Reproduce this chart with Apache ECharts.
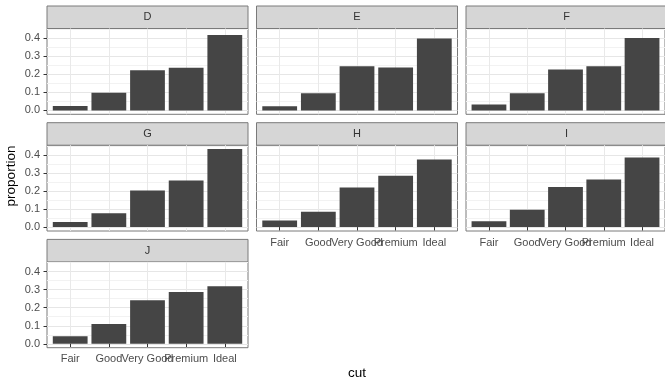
<!DOCTYPE html>
<html>
<head>
<meta charset="utf-8">
<script src="https://cdn.jsdelivr.net/npm/echarts@6/dist/echarts.min.js"></script>
<style>
html,body{margin:0;padding:0;background:#fff;}
#chart{width:665px;height:382px;}
</style>
</head>
<body>
<div id="chart"></div>
<script>
const cuts = ['Fair', 'Good', 'Very Good', 'Premium', 'Ideal'];
const facets = ['D', 'E', 'F', 'G', 'H', 'I', 'J'];
const propD = [0.0241, 0.0977, 0.2233, 0.2366, 0.4183];
const propE = [0.0229, 0.0952, 0.2450, 0.2385, 0.3984];
const propF = [0.0327, 0.0953, 0.2268, 0.2443, 0.4010];
const propG = [0.0278, 0.0771, 0.2036, 0.2589, 0.4325];
const propH = [0.0365, 0.0845, 0.2197, 0.2842, 0.3751];
const propI = [0.0323, 0.0963, 0.2221, 0.2634, 0.3860];
const propJ = [0.0424, 0.1093, 0.2415, 0.2877, 0.3191];
const yTicks = [0, 0.1, 0.2, 0.3, 0.4];
const yMinorTicks = [0.05, 0.15, 0.25, 0.35, 0.45];
const yTickLabels = ['0.0', '0.1', '0.2', '0.3', '0.4'];

const values = [propD, propE, propF, propG, propH, propI, propJ];

// layout
const colLeft = [47, 256.5, 466];
const rowTop = [28.5, 145.2, 261.9];
const panelW = 201, panelH = 85.8, stripH = 22.5;
const FONT = '"Liberation Sans", Arial, Helvetica, sans-serif';

const allMax = Math.max(...values.flat());
const yMin = -0.05 * allMax, yMax = allMax * 1.05;
const xMin = 0.4, xMax = cuts.length + 0.6;
const barW = 0.9 * panelW / (xMax - xMin);

const grids = [], xAxes = [], yAxes = [], series = [], graphics = [];
const catPos = cuts.map((c, i) => i + 1);

facets.forEach((f, i) => {
  const row = Math.floor(i / 3), col = i % 3;
  const left = colLeft[col], top = rowTop[row];
  const bottomPanel = (i + 3) >= facets.length;
  const leftPanel = col === 0;
  grids.push({
    left: left, top: top, width: panelW, height: panelH,
    show: true, backgroundColor: '#fff', borderColor: '#7a7a7a', borderWidth: 1,
    containLabel: false
  });
  xAxes.push({
    type: 'value', gridIndex: i, min: xMin, max: xMax,
    axisLine: { show: false },
    axisTick: { show: bottomPanel, customValues: catPos, length: 3.5, lineStyle: { color: '#333', width: 1 } },
    axisLabel: {
      show: bottomPanel, customValues: catPos, margin: 6,
      formatter: v => cuts[Math.round(v) - 1] || '',
      color: '#4d4d4d', fontSize: 11, fontFamily: FONT
    },
    splitLine: { show: true, lineStyle: { color: '#e9e9e9', width: 1 } },
    minorSplitLine: { show: false }
  });
  yAxes.push({
    type: 'value', gridIndex: i, min: yMin, max: yMax, position: 'left',
    axisLine: { show: false },
    axisTick: { show: leftPanel, customValues: yTicks, length: 3.5, lineStyle: { color: '#333', width: 1 } },
    axisLabel: {
      show: leftPanel, customValues: yTicks, margin: 7,
      formatter: v => yTickLabels[yTicks.indexOf(Math.round(v * 10) / 10)] || '',
      color: '#4d4d4d', fontSize: 11, fontFamily: FONT
    },
    splitLine: { show: true, lineStyle: { color: '#e6e6e6', width: 1 } }
  });
  yAxes.push({
    type: 'value', gridIndex: i, min: yMin, max: yMax, position: 'left',
    axisLine: { show: false },
    axisTick: { show: false, customValues: yMinorTicks },
    axisLabel: { show: false },
    splitLine: { show: true, lineStyle: { color: '#f2f2f2', width: 1 } }
  });
  series.push({
    type: 'bar', xAxisIndex: i, yAxisIndex: 2 * i,
    data: values[i].map((v, k) => [catPos[k], v]),
    barWidth: barW,
    itemStyle: { color: '#454545' },
    silent: true
  });
  graphics.push({
    type: 'rect', silent: true,
    shape: { x: left, y: top - stripH, width: panelW, height: stripH },
    style: { fill: '#d6d6d6', stroke: '#7a7a7a', lineWidth: 1 }
  });
  graphics.push({
    type: 'text', silent: true,
    x: left + panelW / 2, y: top - stripH / 2,
    style: { text: f, fill: '#333', font: '11px ' + FONT, align: 'center', verticalAlign: 'middle' }
  });
});

graphics.push({
  type: 'text', silent: true, x: 357, y: 373,
  style: { text: 'cut', fill: '#000', font: '13.5px ' + FONT, align: 'center', verticalAlign: 'middle' }
});
graphics.push({
  type: 'text', silent: true, x: 11, y: 176, rotation: Math.PI / 2,
  style: { text: 'proportion', fill: '#000', font: '13.5px ' + FONT, align: 'center', verticalAlign: 'middle' }
});

const chart = echarts.init(document.getElementById('chart'), null, { renderer: 'canvas' });
chart.setOption({
  animation: false,
  backgroundColor: '#fff',
  grid: grids,
  xAxis: xAxes,
  yAxis: yAxes,
  series: series,
  graphic: graphics
});
</script>
</body>
</html>
